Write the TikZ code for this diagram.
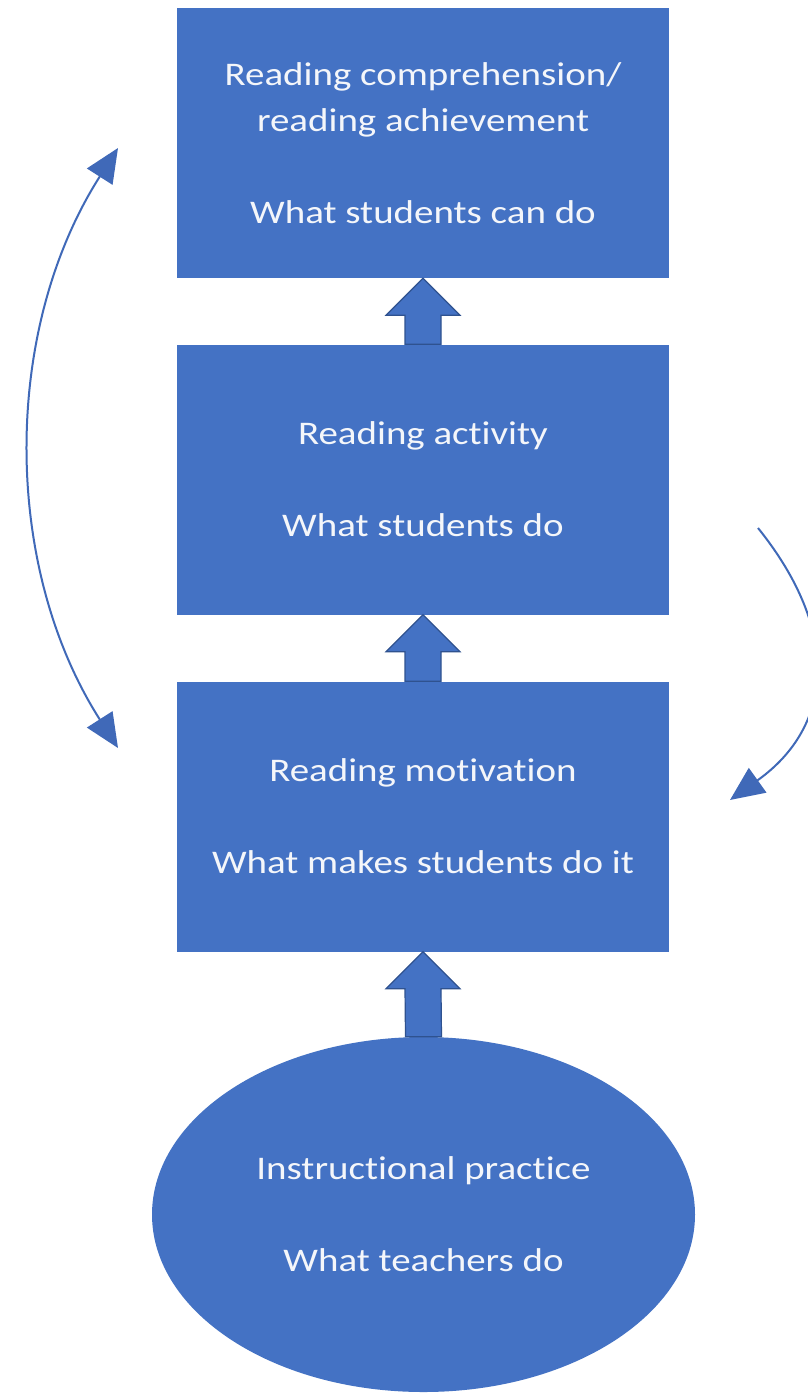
\documentclass[tikz,border=0pt]{standalone}
\usepackage{fontspec}
\setmainfont{Carlito}[FakeStretch=1.18,Ligatures=NoCommon]
\usetikzlibrary{shapes.geometric,arrows.meta,calc}
\definecolor{boxblue}{HTML}{4472C4}
\definecolor{edgeblue}{HTML}{2F528F}
\definecolor{curveblue}{HTML}{4069B8}
\definecolor{txtwhite}{HTML}{F4F6FA}
\begin{document}
\begin{tikzpicture}[x=1pt,y=-1pt,
  txt/.style={text=txtwhite,align=center,font=\fontsize{33}{46}\selectfont,inner sep=0pt},
  box/.style={txt,rectangle,fill=boxblue,minimum width=492pt,minimum height=270pt},
  oval/.style={txt,ellipse,fill=boxblue,minimum width=543pt,minimum height=355pt},
  blk/.style={fill=boxblue,draw=edgeblue,line width=1.2pt,line join=miter},
  curve/.style={draw=curveblue,line width=2pt,{Triangle[length=34pt,width=30pt]}-{Triangle[length=34pt,width=30pt]}},
  curveone/.style={draw=curveblue,line width=2pt,-{Triangle[length=34pt,width=30pt]}}]
\useasboundingbox (0,0) rectangle (808,1394);
\fill[white] (0,0) rectangle (808,1394);

\node[box] (ach) at (423,143) {Reading comprehension/\\reading achievement\\[46pt]What students can do};
\node[box] (act) at (423,479.5) {Reading activity\\[46pt]What students do};
\node[box] (mot) at (423,816.5) {Reading motivation\\[46pt]What makes students do it};
\node[oval] (ins) at (423.5,1214.5) {Instructional practice\\[46pt]What teachers do};

% block arrows
\foreach \lo/\hi in {act/ach, mot/act, ins/mot}{
  \draw[blk] (\hi.south) -- ++(37,37) -- ++(-19,0) -- ($(\lo.north)+(18,0)$)
    -- ($(\lo.north)+(-18,0)$) -- ($(\hi.south)+(-18,37)$) -- ++(-19,0) -- cycle;
}

% curved arrows
\coordinate (lt) at (118,148);
\coordinate (lb) at (118,748);
\draw[curve] (lt) .. controls (2,329.7) and (2,566.3) .. (lb);

\coordinate (rs) at (758,528);
\coordinate (re) at (730,800);
\draw[curveone] (rs) .. controls (840,630) and (835,725) .. (re);
\end{tikzpicture}
\end{document}
